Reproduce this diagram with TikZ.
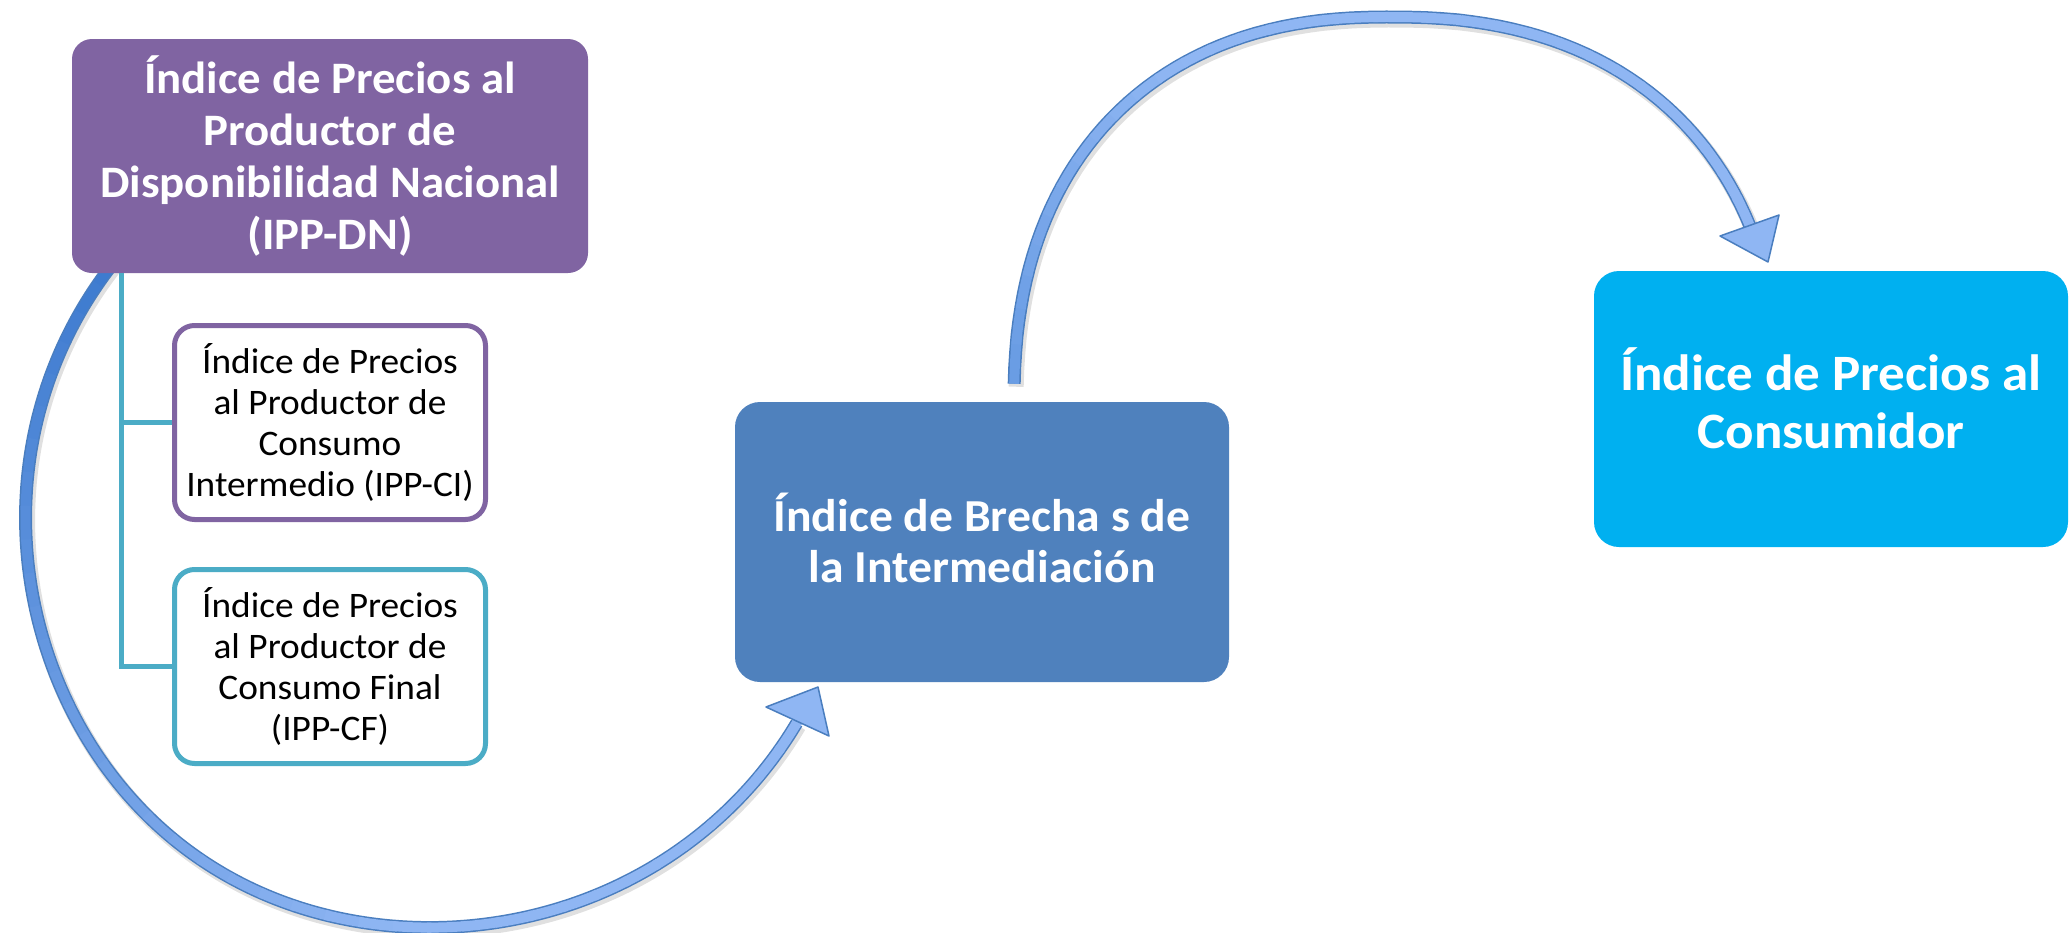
\documentclass[tikz,border=0pt]{standalone}
\usepackage{fontspec}
\setmainfont{Carlito}[FakeStretch=1.04]
\definecolor{purpleA}{HTML}{8064A2}
\definecolor{tealA}{HTML}{4BACC6}
\definecolor{blueA}{HTML}{4F81BD}
\definecolor{cyanA}{HTML}{00B0F0}
\definecolor{arrowlight}{HTML}{8FB6F3}
\definecolor{arrowdark}{HTML}{3E7BCF}
\definecolor{arrowmid}{HTML}{6A9DE4}
\definecolor{arrowline}{HTML}{4A7EBF}
\tikzset{
  titlebox/.style={rectangle, inner sep=0pt, text=white, align=center},
  subbox/.style={rectangle, rounded corners=20pt, line width=5pt, fill=white,
    inner sep=0pt, align=center, text=black, minimum width=311pt, minimum height=194pt,
    font=\fontsize{35.9}{41}\selectfont},
  tree/.style={draw=tealA, line width=5pt},
  arrowedge/.style={draw=arrowline, line width=13pt},
  arrowcore/.style={line width=10pt},
  arrowshadow/.style={draw=black, opacity=0.12, line width=15pt},
  headshape/.style={fill=arrowlight, draw=arrowline, line width=1.5pt, line join=round},
}
\begin{document}
\begin{tikzpicture}[x=1pt,y=-1pt,
  declare function={
    rr(\t)=1+0.02*exp(-((\t-125)/32)^2);
    ax(\t)=440+414*cos(\t)*rr(\t);
    ay(\t)=515+410*sin(\t)*rr(\t);
    bx(\t)=1390+ifthenelse(cos(\t)<0,376,390)*sign(cos(\t))*(abs(cos(\t))+0.000001)^0.8696;
    by(\t)=405+388*sign(sin(\t))*(abs(sin(\t))+0.000001)^0.8696;
  }]
\fill[white] (0,0) rectangle (2072,932);
\useasboundingbox (0,0) rectangle (2072,932);

% ---- curved arrow 1 (IPP-DN -> Brecha)
\draw[arrowshadow, shift={(2,3)}] plot[domain=219:30.5, samples=120, smooth] ({ax(\x)},{ay(\x)});
\draw[arrowedge] plot[domain=219:30.5, samples=120, smooth] ({ax(\x)},{ay(\x)});
\foreach \i in {0,...,39}{
  \pgfmathsetmacro\ta{219-\i*4.7125}
  \pgfmathsetmacro\tb{\ta-5.3}
  \pgfmathtruncatemacro\p{max(0,min(100,(219-\ta)/1.2))}
  \draw[arrowcore, draw=arrowlight!\p!arrowdark] plot[domain=\ta:\tb, samples=6, smooth] ({ax(\x)},{ay(\x)});
}
\coordinate (h1a) at (766,707);
\coordinate (tip1) at (818,687);
\coordinate (h1b) at (829,736);
\fill[black, opacity=0.12, shift={(2,3)}] (h1a) -- (tip1) -- (h1b) -- cycle;
\path[headshape] (h1a) -- (tip1) -- (h1b) -- cycle;

% ---- curved arrow 2 (Brecha -> Consumidor)
\draw[arrowshadow, shift={(2,3)}] plot[domain=182:336, samples=80] ({bx(\x)},{by(\x)});
\draw[arrowedge] plot[domain=182:336, samples=80] ({bx(\x)},{by(\x)});
\foreach \i in {0,...,31}{
  \pgfmathsetmacro\ta{182+\i*4.8}
  \pgfmathsetmacro\tb{\ta+5.4}
  \pgfmathtruncatemacro\p{max(0,min(100,(\ta-182)/0.55))}
  \draw[arrowcore, draw=arrowlight!\p!arrowmid] plot[domain=\ta:\tb, samples=5] ({bx(\x)},{by(\x)});
}
\coordinate (h2a) at (1720,236);
\coordinate (h2b) at (1779,215);
\coordinate (tip2) at (1768,262);
\fill[black, opacity=0.12, shift={(2,3)}] (h2a) -- (h2b) -- (tip2) -- cycle;
\path[headshape] (h2a) -- (h2b) -- (tip2) -- cycle;

% ---- boxes
\node[titlebox, fill=purpleA, rounded corners=20pt, minimum width=516pt, minimum height=234pt,
  font=\fontsize{45}{52.3}\selectfont\bfseries] (dn) at (330,156)
  {Índice de Precios al\\Productor de\\Disponibilidad Nacional\\(IPP-DN)};
\node[subbox, draw=purpleA] (ci) at (330,422.5)
  {Índice de Precios\\al Productor de\\Consumo\\Intermedio (IPP-CI)};
\node[subbox, draw=tealA] (cf) at (330,666.5)
  {Índice de Precios\\al Productor de\\Consumo Final\\(IPP-CF)};
\node[titlebox, fill=blueA, rounded corners=25pt, minimum width=494pt, minimum height=280pt,
  font=\fontsize{45.8}{51}\selectfont\bfseries] (br) at (982,542)
  {Índice de Brecha s de\\la Intermediación\rule[-8pt]{0pt}{8pt}};
\node[titlebox, fill=cyanA, rounded corners=25pt, minimum width=474pt, minimum height=276pt,
  font=\fontsize{51}{58}\selectfont\bfseries] (co) at (1831,409)
  {Índice de Precios al\\Consumidor\rule[-22pt]{0pt}{22pt}};

% ---- tree connectors
\draw[tree] ([xshift=50pt]dn.south west) |- (ci.west);
\draw[tree] ([xshift=50pt]dn.south west) |- (cf.west);
\end{tikzpicture}
\end{document}
